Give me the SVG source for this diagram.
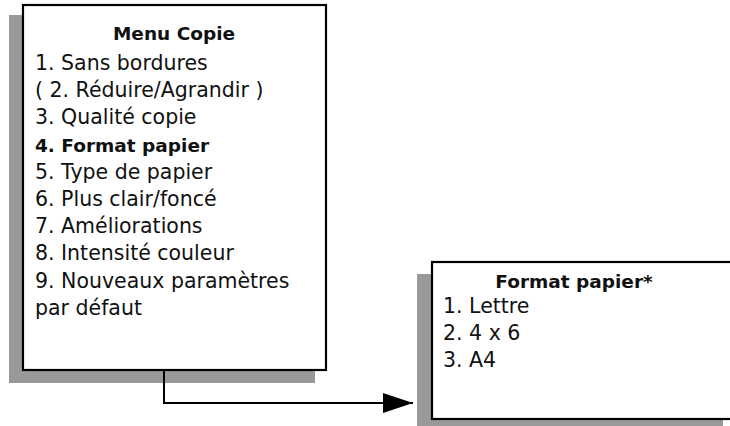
<svg xmlns="http://www.w3.org/2000/svg" width="730" height="426" viewBox="0 0 730 426">
<defs>
<style>
.shadow{fill:#999999;stroke:none}
.box{fill:#ffffff;stroke:#000000;stroke-width:2.2}
.t{font-family:"DejaVu Sans","Liberation Sans",sans-serif;font-size:20.5px;fill:#111111}
.b{font-family:"DejaVu Sans","Liberation Sans",sans-serif;font-size:18.5px;font-weight:bold;fill:#111111}
.conn{fill:none;stroke:#000000;stroke-width:2}
</style>
<marker id="arrow" markerUnits="userSpaceOnUse" markerWidth="32" markerHeight="22" refX="30" refY="10" orient="auto">
<polygon points="0,0 30,10 0,20" fill="#000000"/>
</marker>
</defs>
<g id="menu-copie">
<rect class="shadow" x="9" y="15" width="306" height="368"/>
<rect class="box" x="23" y="5" width="303" height="365"/>
<text class="b" x="174" y="40" text-anchor="middle">Menu Copie</text>
<text class="t" x="35" y="70">1. Sans bordures</text>
<text class="t" x="35" y="97">( 2. Réduire/Agrandir )</text>
<text class="t" x="35" y="124">3. Qualité copie</text>
<text class="b" x="35" y="152">4. Format papier</text>
<text class="t" x="35" y="179">5. Type de papier</text>
<text class="t" x="35" y="206">6. Plus clair/foncé</text>
<text class="t" x="35" y="233">7. Améliorations</text>
<text class="t" x="35" y="260">8. Intensité couleur</text>
<text class="t" x="35" y="288">9. Nouveaux paramètres</text>
<text class="t" x="35" y="315">par défaut</text>
</g>
<g id="format-papier">
<rect class="shadow" x="417" y="274" width="306" height="160"/>
<rect class="box" x="432" y="262" width="310" height="157"/>
<text class="b" x="574" y="288" text-anchor="middle">Format papier*</text>
<text class="t" x="443" y="313">1. Lettre</text>
<text class="t" x="443" y="340">2. 4 x 6</text>
<text class="t" x="443" y="367">3. A4</text>
</g>
<g id="connectors">
<polyline class="conn" points="164,370 164,403 413,403" marker-end="url(#arrow)"/>
</g>
</svg>
